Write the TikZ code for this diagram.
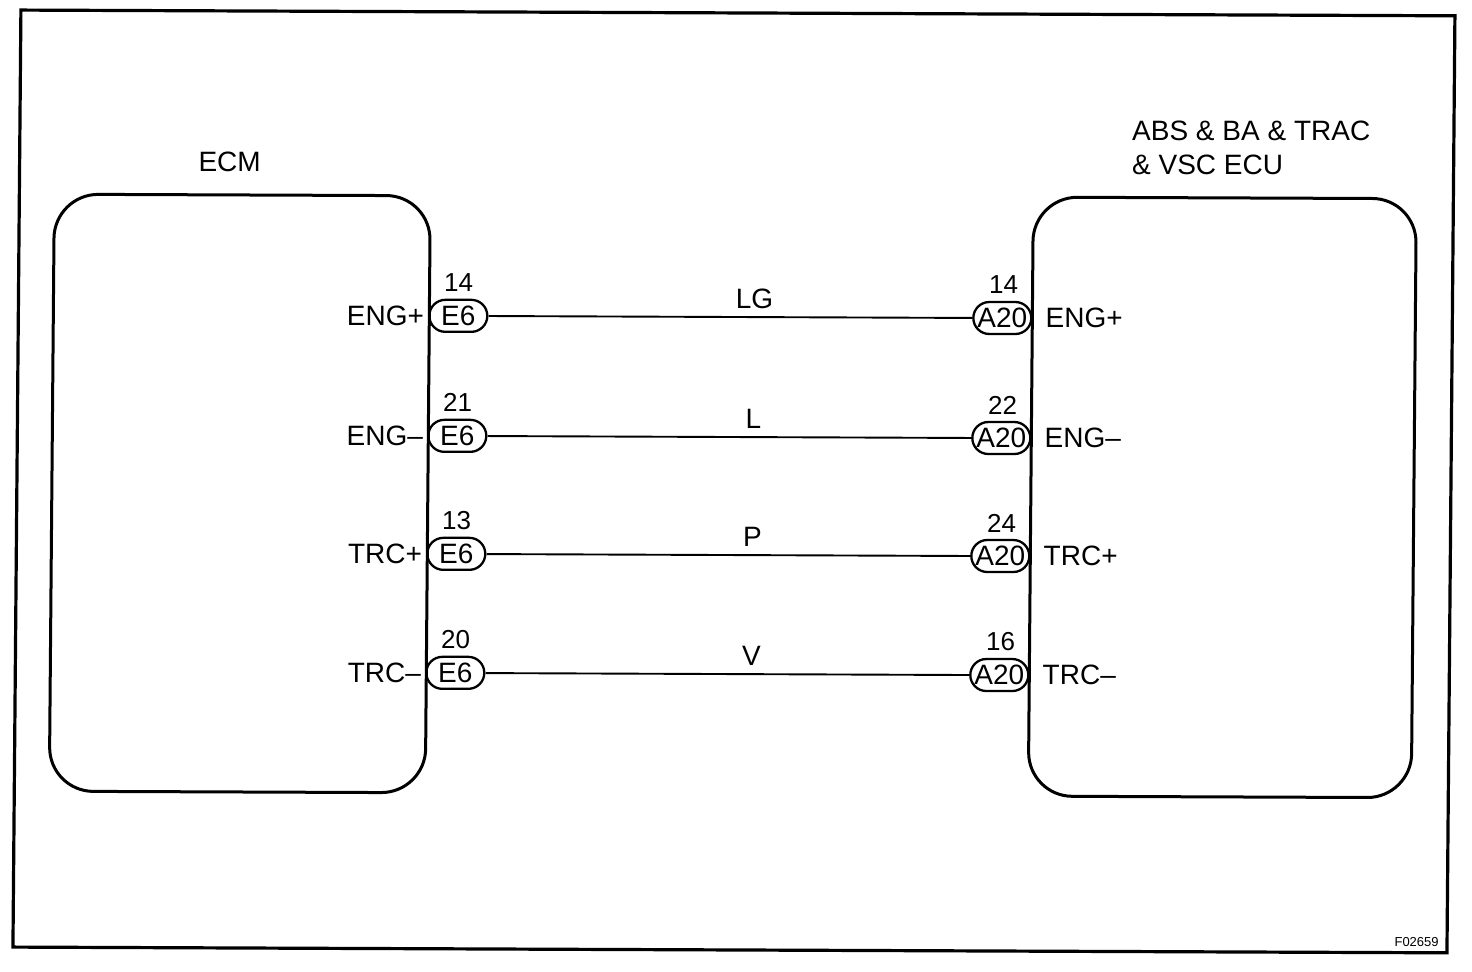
\documentclass[tikz,border=0pt]{standalone}
\usepackage{fontspec}
\setmainfont{Liberation Sans}
\begin{document}
\begin{tikzpicture}[x=0.5pt,y=-0.5pt,
  box/.style={draw,line width=1.5pt,rounded corners=22pt},
  conn/.style={draw,line width=1.15pt,rounded corners=8pt,minimum width=29pt,minimum height=16pt,inner sep=0pt,font=\fontsize{14}{16}\selectfont},
  wire/.style={line width=0.95pt},
  lbl/.style={inner sep=0pt,font=\fontsize{14}{16}\selectfont},
  pin/.style={inner sep=0pt,font=\fontsize{13}{15}\selectfont}]
\useasboundingbox (0,0) rectangle (1472,972);
\begin{scope}[cm={1,-0.004,0.0085,1,(0,0)}]
\draw[line width=1.6pt] (21,10) rectangle (1455,947);
\draw[box] (56,194) rectangle (432,791);
\draw[box] (1035,193) rectangle (1418,792);
\node[lbl] (ecm) at (231,161) {ECM};
\node[lbl,anchor=west,align=left] (abs) at (1133,143) {ABS \& BA \& TRAC\\[1pt]\& VSC ECU};
\foreach \i/\y/\ln/\rn/\wl/\ll/\rl in {1/314/14/14/LG/ENG+/ENG+,2/434/21/22/L/ENG--/ENG--,3/552/13/24/P/TRC+/TRC+,4/671/20/16/V/TRC--/TRC--}{
  \node[conn] (e\i) at (461,\y) {E6};
  \node[conn] (a\i) at (1005,\y) {A20};
  \node[pin] (ep\i) at (461,\y-33) {\ln};
  \node[pin] (ap\i) at (1006,\y-33) {\rn};
  \draw[wire] (e\i) -- (a\i);
  \node[lbl] (w\i) at (757,\y-18) {\wl};
  \node[lbl,anchor=east] (ll\i) at (427,\y) {\ll};
  \node[lbl,anchor=west] (rl\i) at (1048,\y) {\rl};
}
\node[inner sep=0pt,font=\fontsize{6.5}{8}\selectfont,anchor=east] (fig) at (1447,936) {F02659};
\end{scope}
\end{tikzpicture}
\end{document}
